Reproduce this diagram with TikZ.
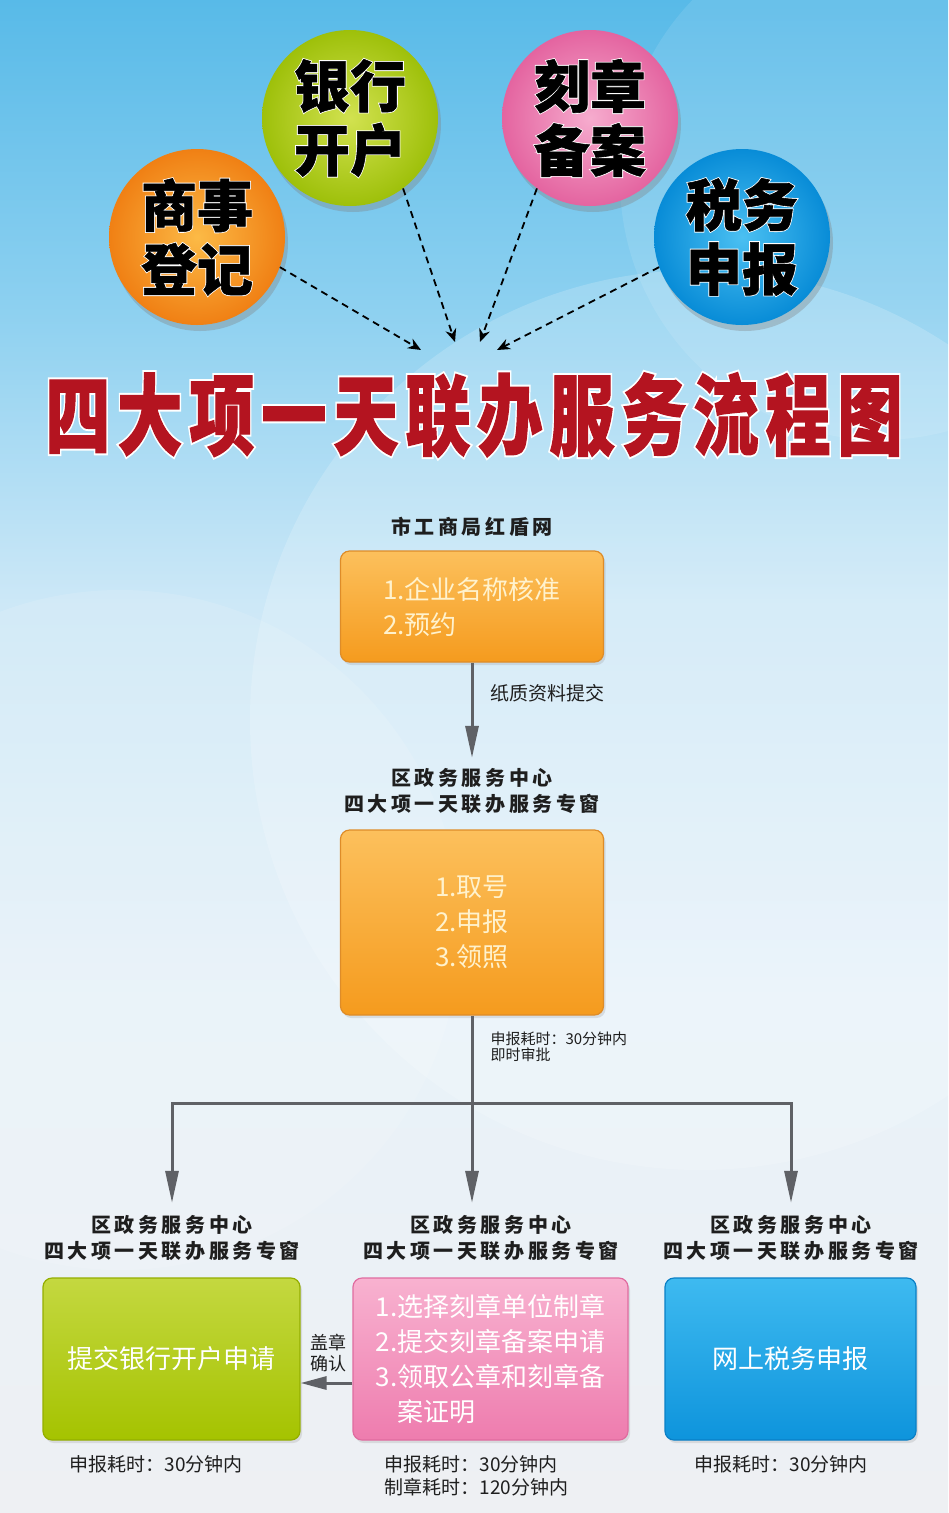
\documentclass[tikz,border=0pt]{standalone}
\usepackage{fontspec}
\setmainfont{Noto Sans CJK SC}
\newfontfamily\hdfont[LetterSpace=18]{Noto Sans CJK SC}
\newfontfamily\ttlfont[FakeBold=1.5,LetterSpace=10.6]{Noto Sans CJK SC}
\newfontfamily\ttledge[FakeBold=6,LetterSpace=10.6]{Noto Sans CJK SC}
\newfontfamily\ballfont[FakeBold=1]{Noto Sans CJK SC}
\newfontfamily\balledge[FakeBold=4]{Noto Sans CJK SC}
\usepackage{tikz}
\usetikzlibrary{arrows.meta,shadows}

\definecolor{bgtop}{RGB}{88,186,232}
\definecolor{bgsky}{RGB}{140,208,240}
\definecolor{bgmid}{RGB}{205,232,247}
\definecolor{bglow}{RGB}{232,242,249}
\definecolor{bgbot}{RGB}{238,240,243}
\definecolor{orin}{RGB}{252,186,70}
\definecolor{orout}{RGB}{240,128,20}
\definecolor{grin}{RGB}{210,226,80}
\definecolor{grout}{RGB}{158,192,10}
\definecolor{pkin}{RGB}{246,172,206}
\definecolor{pkout}{RGB}{228,100,160}
\definecolor{blin}{RGB}{75,192,242}
\definecolor{blout}{RGB}{8,140,215}
\definecolor{titlered}{RGB}{180,20,32}
\definecolor{txtdark}{RGB}{30,30,30}
\definecolor{arrgray}{RGB}{95,97,102}
\definecolor{ortop}{RGB}{252,192,92}
\definecolor{orbot}{RGB}{245,155,30}
\definecolor{orline}{RGB}{222,140,40}
\definecolor{ortext}{RGB}{255,242,205}
\definecolor{gntop}{RGB}{196,216,64}
\definecolor{gnbot}{RGB}{165,195,0}
\definecolor{gnline}{RGB}{148,174,0}
\definecolor{pktop}{RGB}{248,178,208}
\definecolor{pkbot}{RGB}{238,124,174}
\definecolor{pkline}{RGB}{224,108,160}
\definecolor{bltop}{RGB}{62,186,240}
\definecolor{blbot}{RGB}{14,148,220}
\definecolor{blline}{RGB}{10,128,198}

\pgfdeclareverticalshading{bgshade}{100bp}{color(0bp)=(bgbot); color(25bp)=(bgbot); color(42bp)=(bglow); color(55bp)=(bgmid); color(65bp)=(bgsky); color(75bp)=(bgtop); color(100bp)=(bgtop)}

\begin{document}
\begin{tikzpicture}[x=1pt, y=-1pt,
    ball/.style={shape=circle, minimum size=176pt, inner sep=0pt,
        drop shadow={opacity=0.35, shadow xshift=3pt, shadow yshift=-6pt}},
    balltxt/.style={align=center, font=#1\fontsize{56}{64}\selectfont\bfseries},
    darr/.style={line width=1.8pt, dash pattern=on 7pt off 5pt, -{Stealth[length=13pt,width=11pt]}},
    ttl/.style={font=#1\fontsize{88}{88}\selectfont\bfseries, xscale=0.74},
    hd/.style={align=center, font=\hdfont\fontsize{20}{26}\selectfont\bfseries, text=txtdark},
    box/.style={shape=rectangle, rounded corners=9pt, line width=1.2pt, align=left,
        font=\fontsize{26}{35}\selectfont,
        drop shadow={opacity=0.2, shadow xshift=2pt, shadow yshift=-3pt}},
    lbl/.style={align=left, text=txtdark},
    garr/.style={draw=arrgray, line width=3pt, -{Triangle[length=32pt,width=13pt]}},
    gline/.style={draw=arrgray, line width=3pt}]

    % background
    \useasboundingbox (0,0) rectangle (948,1513);
    \shade[shading=bgshade] (0,0) rectangle (948,1513);
    \fill[white, opacity=0.18] (700,720) circle[radius=450];
    \fill[white, opacity=0.12] (120,930) circle[radius=340];
    \fill[white, opacity=0.10] (880,180) circle[radius=260];

    % the four items
    \node[ball, shading=radial, inner color=orin, outer color=orout] (c1) at (197,237) {};
    \node[ball, shading=radial, inner color=grin, outer color=grout] (c2) at (350,118) {};
    \node[ball, shading=radial, inner color=pkin, outer color=pkout] (c3) at (590,118) {};
    \node[ball, shading=radial, inner color=blin, outer color=blout] (c4) at (742,237) {};
    \node[balltxt=\balledge, text=white] (c1e) at (c1) {商事\\登记};
    \node[balltxt=\ballfont, text=black] (c1t) at (c1) {商事\\登记};
    \node[balltxt=\balledge, text=white] (c2e) at (c2) {银行\\开户};
    \node[balltxt=\ballfont, text=black] (c2t) at (c2) {银行\\开户};
    \node[balltxt=\balledge, text=white] (c3e) at (c3) {刻章\\备案};
    \node[balltxt=\ballfont, text=black] (c3t) at (c3) {刻章\\备案};
    \node[balltxt=\balledge, text=white] (c4e) at (c4) {税务\\申报};
    \node[balltxt=\ballfont, text=black] (c4t) at (c4) {税务\\申报};

    \coordinate (t1) at (421,350);
    \coordinate (t2) at (455,342);
    \coordinate (t3) at (480,342);
    \coordinate (t4) at (497,350);
    \draw[darr] (c1.-20) -- (t1);
    \draw[darr] (c2.-53) -- (t2);
    \draw[darr] (c3.-127) -- (t3);
    \draw[darr] (c4.-160) -- (t4);

    % title
    \node[ttl=\ttledge, text=white] (tedge) at (474,415) {四大项一天联办服务流程图};
    \node[ttl=\ttlfont, text=titlered] (title) at (474,415) {四大项一天联办服务流程图};

    % first steps
    \node[hd] (h0) at (472,527) {市工商局红盾网};
    \node[box, draw=orline, top color=ortop, bottom color=orbot, text=ortext,
        minimum width=263pt, minimum height=111pt] (b1) at (472,606.5) {1.企业名称核准\\2.预约};
    \node[hd] (h1) at (472,791) {区政务服务中心\\四大项一天联办服务专窗};
    \node[box, draw=orline, top color=ortop, bottom color=orbot, text=ortext,
        minimum width=263pt, minimum height=185pt] (b2) at (472,922.5) {1.取号\\2.申报\\3.领照};

    \draw[garr, shorten >=7pt] (b1) -- (h1);
    \node[lbl, anchor=west, font=\fontsize{19}{23}\selectfont] (n1) at (487,693) {纸质资料提交};
    \node[lbl, anchor=west, font=\fontsize{15}{16}\selectfont] (n2) at (487,1047) {申报耗时：30分钟内\\即时审批};

    % three windows
    \coordinate (jc) at (472,1103);
    \node[hd] (hl) at (172,1238) {区政务服务中心\\四大项一天联办服务专窗};
    \node[hd] (hm) at (491,1238) {区政务服务中心\\四大项一天联办服务专窗};
    \node[hd] (hr) at (791,1238) {区政务服务中心\\四大项一天联办服务专窗};

    \draw[gline] (b2) -- (jc);
    \draw[garr, shorten >=9pt] (jc) -| (hl);
    \draw[garr, shorten >=9pt] (jc) -- (jc |- hm.north);
    \draw[garr, shorten >=9pt] (jc) -| (hr);

    \node[box, draw=gnline, top color=gntop, bottom color=gnbot, text=white, align=center,
        minimum width=257pt, minimum height=162pt] (gb) at (171.5,1359) {提交银行开户申请};
    \node[box, draw=pkline, top color=pktop, bottom color=pkbot, text=white,
        minimum width=275pt, minimum height=162pt] (pb) at (490.5,1359) {1.选择刻章单位制章\\2.提交刻章备案申请\\3.领取公章和刻章备\\\phantom{3.}案证明};
    \node[box, draw=blline, top color=bltop, bottom color=blbot, text=white, align=center,
        minimum width=251pt, minimum height=162pt] (bb) at (790.5,1359) {网上税务申报};

    \draw[garr, -{Triangle[length=26pt,width=13pt]}] ([yshift=-24pt]pb.west) -- ([yshift=-24pt]gb.east);
    \node[lbl, align=center, font=\fontsize{18}{21}\selectfont] (gz) at (328,1353) {盖章\\确认};

    % times
    \node[lbl, anchor=west, font=\fontsize{19}{23}\selectfont] (fl) at (66,1464) {申报耗时：30分钟内};
    \node[lbl, anchor=west, font=\fontsize{19}{23}\selectfont] (fm) at (381,1475.5) {申报耗时：30分钟内\\制章耗时：120分钟内};
    \node[lbl, anchor=west, font=\fontsize{19}{23}\selectfont] (fr) at (691,1464) {申报耗时：30分钟内};
\end{tikzpicture}
\end{document}
